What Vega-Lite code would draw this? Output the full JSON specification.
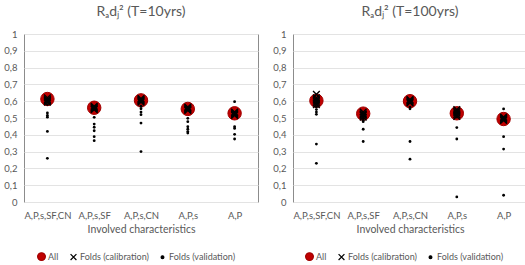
{
  "$schema": "https://vega.github.io/schema/vega-lite/v6.json",
  "background": "white",
  "padding": {"left": 3, "right": 2, "top": 4, "bottom": 0},
  "spacing": 13,
  "config": {
    "font": "Lato",
    "view": {"stroke": "#8c8c8c", "strokeWidth": 1},
    "axis": {"labelColor": "#595959", "titleColor": "#595959", "labelFont": "Lato", "titleFont": "Lato"},
    "legend": {"labelFont": "Lato", "labelColor": "#595959"},
    "title": {"font": "Lato", "color": "#595959", "fontSize": 14, "fontWeight": "normal", "offset": 10}
  },
  "data": {"values": [
    {"panel": "T10", "cat": "A,P,s,SF,CN", "series": "All", "value": 0.613},
    {"panel": "T10", "cat": "A,P,s,SF", "series": "All", "value": 0.561},
    {"panel": "T10", "cat": "A,P,s,CN", "series": "All", "value": 0.605},
    {"panel": "T10", "cat": "A,P,s", "series": "All", "value": 0.554},
    {"panel": "T10", "cat": "A,P", "series": "All", "value": 0.528},
    {"panel": "T10", "cat": "A,P,s,SF,CN", "series": "Folds (calibration)", "value": 0.62},
    {"panel": "T10", "cat": "A,P,s,SF,CN", "series": "Folds (calibration)", "value": 0.61},
    {"panel": "T10", "cat": "A,P,s,SF,CN", "series": "Folds (calibration)", "value": 0.605},
    {"panel": "T10", "cat": "A,P,s,SF,CN", "series": "Folds (calibration)", "value": 0.6},
    {"panel": "T10", "cat": "A,P,s,SF,CN", "series": "Folds (calibration)", "value": 0.595},
    {"panel": "T10", "cat": "A,P,s,SF", "series": "Folds (calibration)", "value": 0.57},
    {"panel": "T10", "cat": "A,P,s,SF", "series": "Folds (calibration)", "value": 0.565},
    {"panel": "T10", "cat": "A,P,s,SF", "series": "Folds (calibration)", "value": 0.56},
    {"panel": "T10", "cat": "A,P,s,SF", "series": "Folds (calibration)", "value": 0.555},
    {"panel": "T10", "cat": "A,P,s,SF", "series": "Folds (calibration)", "value": 0.55},
    {"panel": "T10", "cat": "A,P,s,CN", "series": "Folds (calibration)", "value": 0.615},
    {"panel": "T10", "cat": "A,P,s,CN", "series": "Folds (calibration)", "value": 0.61},
    {"panel": "T10", "cat": "A,P,s,CN", "series": "Folds (calibration)", "value": 0.605},
    {"panel": "T10", "cat": "A,P,s,CN", "series": "Folds (calibration)", "value": 0.6},
    {"panel": "T10", "cat": "A,P,s,CN", "series": "Folds (calibration)", "value": 0.595},
    {"panel": "T10", "cat": "A,P,s", "series": "Folds (calibration)", "value": 0.565},
    {"panel": "T10", "cat": "A,P,s", "series": "Folds (calibration)", "value": 0.56},
    {"panel": "T10", "cat": "A,P,s", "series": "Folds (calibration)", "value": 0.555},
    {"panel": "T10", "cat": "A,P,s", "series": "Folds (calibration)", "value": 0.55},
    {"panel": "T10", "cat": "A,P,s", "series": "Folds (calibration)", "value": 0.545},
    {"panel": "T10", "cat": "A,P", "series": "Folds (calibration)", "value": 0.535},
    {"panel": "T10", "cat": "A,P", "series": "Folds (calibration)", "value": 0.53},
    {"panel": "T10", "cat": "A,P", "series": "Folds (calibration)", "value": 0.525},
    {"panel": "T10", "cat": "A,P", "series": "Folds (calibration)", "value": 0.52},
    {"panel": "T10", "cat": "A,P", "series": "Folds (calibration)", "value": 0.515},
    {"panel": "T10", "cat": "A,P,s,SF,CN", "series": "Folds (validation)", "value": 0.58},
    {"panel": "T10", "cat": "A,P,s,SF,CN", "series": "Folds (validation)", "value": 0.53},
    {"panel": "T10", "cat": "A,P,s,SF,CN", "series": "Folds (validation)", "value": 0.515},
    {"panel": "T10", "cat": "A,P,s,SF,CN", "series": "Folds (validation)", "value": 0.505},
    {"panel": "T10", "cat": "A,P,s,SF,CN", "series": "Folds (validation)", "value": 0.42},
    {"panel": "T10", "cat": "A,P,s,SF,CN", "series": "Folds (validation)", "value": 0.26},
    {"panel": "T10", "cat": "A,P,s,SF", "series": "Folds (validation)", "value": 0.504},
    {"panel": "T10", "cat": "A,P,s,SF", "series": "Folds (validation)", "value": 0.464},
    {"panel": "T10", "cat": "A,P,s,SF", "series": "Folds (validation)", "value": 0.445},
    {"panel": "T10", "cat": "A,P,s,SF", "series": "Folds (validation)", "value": 0.424},
    {"panel": "T10", "cat": "A,P,s,SF", "series": "Folds (validation)", "value": 0.389},
    {"panel": "T10", "cat": "A,P,s,SF", "series": "Folds (validation)", "value": 0.365},
    {"panel": "T10", "cat": "A,P,s,CN", "series": "Folds (validation)", "value": 0.57},
    {"panel": "T10", "cat": "A,P,s,CN", "series": "Folds (validation)", "value": 0.555},
    {"panel": "T10", "cat": "A,P,s,CN", "series": "Folds (validation)", "value": 0.535},
    {"panel": "T10", "cat": "A,P,s,CN", "series": "Folds (validation)", "value": 0.52},
    {"panel": "T10", "cat": "A,P,s,CN", "series": "Folds (validation)", "value": 0.47},
    {"panel": "T10", "cat": "A,P,s,CN", "series": "Folds (validation)", "value": 0.3},
    {"panel": "T10", "cat": "A,P,s", "series": "Folds (validation)", "value": 0.498},
    {"panel": "T10", "cat": "A,P,s", "series": "Folds (validation)", "value": 0.478},
    {"panel": "T10", "cat": "A,P,s", "series": "Folds (validation)", "value": 0.448},
    {"panel": "T10", "cat": "A,P,s", "series": "Folds (validation)", "value": 0.433},
    {"panel": "T10", "cat": "A,P,s", "series": "Folds (validation)", "value": 0.419},
    {"panel": "T10", "cat": "A,P,s", "series": "Folds (validation)", "value": 0.41},
    {"panel": "T10", "cat": "A,P", "series": "Folds (validation)", "value": 0.597},
    {"panel": "T10", "cat": "A,P", "series": "Folds (validation)", "value": 0.448},
    {"panel": "T10", "cat": "A,P", "series": "Folds (validation)", "value": 0.438},
    {"panel": "T10", "cat": "A,P", "series": "Folds (validation)", "value": 0.403},
    {"panel": "T10", "cat": "A,P", "series": "Folds (validation)", "value": 0.375},
    {"panel": "T100", "cat": "A,P,s,SF,CN", "series": "All", "value": 0.603},
    {"panel": "T100", "cat": "A,P,s,SF", "series": "All", "value": 0.526},
    {"panel": "T100", "cat": "A,P,s,CN", "series": "All", "value": 0.6},
    {"panel": "T100", "cat": "A,P,s", "series": "All", "value": 0.528},
    {"panel": "T100", "cat": "A,P", "series": "All", "value": 0.494},
    {"panel": "T100", "cat": "A,P,s,SF,CN", "series": "Folds (calibration)", "value": 0.641},
    {"panel": "T100", "cat": "A,P,s,SF,CN", "series": "Folds (calibration)", "value": 0.62},
    {"panel": "T100", "cat": "A,P,s,SF,CN", "series": "Folds (calibration)", "value": 0.61},
    {"panel": "T100", "cat": "A,P,s,SF,CN", "series": "Folds (calibration)", "value": 0.6},
    {"panel": "T100", "cat": "A,P,s,SF,CN", "series": "Folds (calibration)", "value": 0.59},
    {"panel": "T100", "cat": "A,P,s,SF,CN", "series": "Folds (calibration)", "value": 0.58},
    {"panel": "T100", "cat": "A,P,s,SF", "series": "Folds (calibration)", "value": 0.535},
    {"panel": "T100", "cat": "A,P,s,SF", "series": "Folds (calibration)", "value": 0.525},
    {"panel": "T100", "cat": "A,P,s,SF", "series": "Folds (calibration)", "value": 0.52},
    {"panel": "T100", "cat": "A,P,s,SF", "series": "Folds (calibration)", "value": 0.515},
    {"panel": "T100", "cat": "A,P,s,SF", "series": "Folds (calibration)", "value": 0.505},
    {"panel": "T100", "cat": "A,P,s,CN", "series": "Folds (calibration)", "value": 0.61},
    {"panel": "T100", "cat": "A,P,s,CN", "series": "Folds (calibration)", "value": 0.605},
    {"panel": "T100", "cat": "A,P,s,CN", "series": "Folds (calibration)", "value": 0.6},
    {"panel": "T100", "cat": "A,P,s,CN", "series": "Folds (calibration)", "value": 0.595},
    {"panel": "T100", "cat": "A,P,s,CN", "series": "Folds (calibration)", "value": 0.59},
    {"panel": "T100", "cat": "A,P,s", "series": "Folds (calibration)", "value": 0.55},
    {"panel": "T100", "cat": "A,P,s", "series": "Folds (calibration)", "value": 0.54},
    {"panel": "T100", "cat": "A,P,s", "series": "Folds (calibration)", "value": 0.53},
    {"panel": "T100", "cat": "A,P,s", "series": "Folds (calibration)", "value": 0.52},
    {"panel": "T100", "cat": "A,P,s", "series": "Folds (calibration)", "value": 0.51},
    {"panel": "T100", "cat": "A,P", "series": "Folds (calibration)", "value": 0.505},
    {"panel": "T100", "cat": "A,P", "series": "Folds (calibration)", "value": 0.5},
    {"panel": "T100", "cat": "A,P", "series": "Folds (calibration)", "value": 0.495},
    {"panel": "T100", "cat": "A,P", "series": "Folds (calibration)", "value": 0.49},
    {"panel": "T100", "cat": "A,P", "series": "Folds (calibration)", "value": 0.485},
    {"panel": "T100", "cat": "A,P,s,SF,CN", "series": "Folds (validation)", "value": 0.565},
    {"panel": "T100", "cat": "A,P,s,SF,CN", "series": "Folds (validation)", "value": 0.55},
    {"panel": "T100", "cat": "A,P,s,SF,CN", "series": "Folds (validation)", "value": 0.535},
    {"panel": "T100", "cat": "A,P,s,SF,CN", "series": "Folds (validation)", "value": 0.522},
    {"panel": "T100", "cat": "A,P,s,SF,CN", "series": "Folds (validation)", "value": 0.345},
    {"panel": "T100", "cat": "A,P,s,SF,CN", "series": "Folds (validation)", "value": 0.23},
    {"panel": "T100", "cat": "A,P,s,SF", "series": "Folds (validation)", "value": 0.498},
    {"panel": "T100", "cat": "A,P,s,SF", "series": "Folds (validation)", "value": 0.486},
    {"panel": "T100", "cat": "A,P,s,SF", "series": "Folds (validation)", "value": 0.478},
    {"panel": "T100", "cat": "A,P,s,SF", "series": "Folds (validation)", "value": 0.433},
    {"panel": "T100", "cat": "A,P,s,SF", "series": "Folds (validation)", "value": 0.36},
    {"panel": "T100", "cat": "A,P,s,CN", "series": "Folds (validation)", "value": 0.565},
    {"panel": "T100", "cat": "A,P,s,CN", "series": "Folds (validation)", "value": 0.555},
    {"panel": "T100", "cat": "A,P,s,CN", "series": "Folds (validation)", "value": 0.36},
    {"panel": "T100", "cat": "A,P,s,CN", "series": "Folds (validation)", "value": 0.255},
    {"panel": "T100", "cat": "A,P,s", "series": "Folds (validation)", "value": 0.505},
    {"panel": "T100", "cat": "A,P,s", "series": "Folds (validation)", "value": 0.443},
    {"panel": "T100", "cat": "A,P,s", "series": "Folds (validation)", "value": 0.375},
    {"panel": "T100", "cat": "A,P,s", "series": "Folds (validation)", "value": 0.03},
    {"panel": "T100", "cat": "A,P", "series": "Folds (validation)", "value": 0.554},
    {"panel": "T100", "cat": "A,P", "series": "Folds (validation)", "value": 0.389},
    {"panel": "T100", "cat": "A,P", "series": "Folds (validation)", "value": 0.315},
    {"panel": "T100", "cat": "A,P", "series": "Folds (validation)", "value": 0.04}
  ]},
  "hconcat": [
    {
      "title": {"text": "Rₐdⱼ² (T=10yrs)"},
      "width": 234,
      "height": 168,
      "transform": [{"filter": "datum.panel === 'T10'"}],
      "encoding": {
        "x": {"field": "cat", "type": "nominal", "sort": ["A,P,s,SF,CN", "A,P,s,SF", "A,P,s,CN", "A,P,s", "A,P"],
          "axis": {"title": "Involved characteristics", "labelAngle": 0, "ticks": false, "domain": false, "grid": false, "labelFontSize": 9.5, "titleFontSize": 10.5, "titleFontWeight": "normal", "labelPadding": 8, "titlePadding": 5}},
        "y": {"field": "value", "type": "quantitative", "scale": {"domain": [0, 1]},
          "axis": {"title": null, "values": [0, 0.1, 0.2, 0.3, 0.4, 0.5, 0.6, 0.7, 0.8, 0.9, 1], "format": "~g", "labelExpr": "replace(datum.label, '.', ',')", "ticks": false, "domain": false, "gridColor": "#e3e3e3", "labelFontSize": 9.5, "labelPadding": 7}},
        "shape": {"field": "series", "type": "nominal", "scale": {"domain": ["All", "Folds (calibration)", "Folds (validation)"], "range": ["circle", "M-1,-1L1,1M1,-1L-1,1", "circle"]},
          "legend": {"orient": "none", "legendX": 13, "legendY": 218, "direction": "horizontal", "title": null, "labelFontSize": 9, "symbolStrokeWidth": 1.2, "columnPadding": 9, "labelOffset": 2}},
        "fill": {"field": "series", "type": "nominal", "scale": {"domain": ["All", "Folds (calibration)", "Folds (validation)"], "range": ["#c00000", "transparent", "#000000"]}},
        "stroke": {"field": "series", "type": "nominal", "scale": {"domain": ["All", "Folds (calibration)", "Folds (validation)"], "range": ["#a00000", "#000000", "#000000"]}},
        "size": {"field": "series", "type": "nominal", "scale": {"type": "point", "padding": 0, "domain": ["All", "Folds (calibration)", "Folds (validation)"], "range": [60, 8]}}
      },
      "layer": [
        {"transform": [{"filter": "datum.series === 'All'"}], "mark": {"type": "point", "filled": true, "opacity": 1, "strokeWidth": 1}, "encoding": {"size": {"value": 180}}},
        {"transform": [{"filter": "datum.series === 'Folds (calibration)'"}], "mark": {"type": "point", "filled": true, "opacity": 1, "strokeWidth": 1.4}, "encoding": {"size": {"value": 45}}},
        {"transform": [{"filter": "datum.series === 'Folds (validation)'"}], "mark": {"type": "point", "filled": true, "opacity": 1, "strokeWidth": 0}}
      ]
    },
    {
      "title": {"text": "Rₐdⱼ² (T=100yrs)"},
      "width": 234,
      "height": 168,
      "transform": [{"filter": "datum.panel === 'T100'"}],
      "encoding": {
        "x": {"field": "cat", "type": "nominal", "sort": ["A,P,s,SF,CN", "A,P,s,SF", "A,P,s,CN", "A,P,s", "A,P"],
          "axis": {"title": "Involved characteristics", "labelAngle": 0, "ticks": false, "domain": false, "grid": false, "labelFontSize": 9.5, "titleFontSize": 10.5, "titleFontWeight": "normal", "labelPadding": 8, "titlePadding": 5}},
        "y": {"field": "value", "type": "quantitative", "scale": {"domain": [0, 1]},
          "axis": {"title": null, "values": [0, 0.1, 0.2, 0.3, 0.4, 0.5, 0.6, 0.7, 0.8, 0.9, 1], "format": "~g", "labelExpr": "replace(datum.label, '.', ',')", "ticks": false, "domain": false, "gridColor": "#e3e3e3", "labelFontSize": 9.5, "labelPadding": 7}},
        "shape": {"field": "series", "type": "nominal", "scale": {"domain": ["All", "Folds (calibration)", "Folds (validation)"], "range": ["circle", "M-1,-1L1,1M1,-1L-1,1", "circle"]},
          "legend": {"orient": "none", "legendX": 12, "legendY": 218, "direction": "horizontal", "title": null, "labelFontSize": 9, "symbolStrokeWidth": 1.2, "columnPadding": 9, "labelOffset": 2}},
        "fill": {"field": "series", "type": "nominal", "scale": {"domain": ["All", "Folds (calibration)", "Folds (validation)"], "range": ["#c00000", "transparent", "#000000"]}},
        "stroke": {"field": "series", "type": "nominal", "scale": {"domain": ["All", "Folds (calibration)", "Folds (validation)"], "range": ["#a00000", "#000000", "#000000"]}},
        "size": {"field": "series", "type": "nominal", "scale": {"type": "point", "padding": 0, "domain": ["All", "Folds (calibration)", "Folds (validation)"], "range": [60, 8]}}
      },
      "layer": [
        {"transform": [{"filter": "datum.series === 'All'"}], "mark": {"type": "point", "filled": true, "opacity": 1, "strokeWidth": 1}, "encoding": {"size": {"value": 180}}},
        {"transform": [{"filter": "datum.series === 'Folds (calibration)'"}], "mark": {"type": "point", "filled": true, "opacity": 1, "strokeWidth": 1.4}, "encoding": {"size": {"value": 45}}},
        {"transform": [{"filter": "datum.series === 'Folds (validation)'"}], "mark": {"type": "point", "filled": true, "opacity": 1, "strokeWidth": 0}}
      ]
    }
  ],
  "resolve": {"scale": {"fill": "independent", "stroke": "independent", "shape": "independent", "size": "independent"}}
}
